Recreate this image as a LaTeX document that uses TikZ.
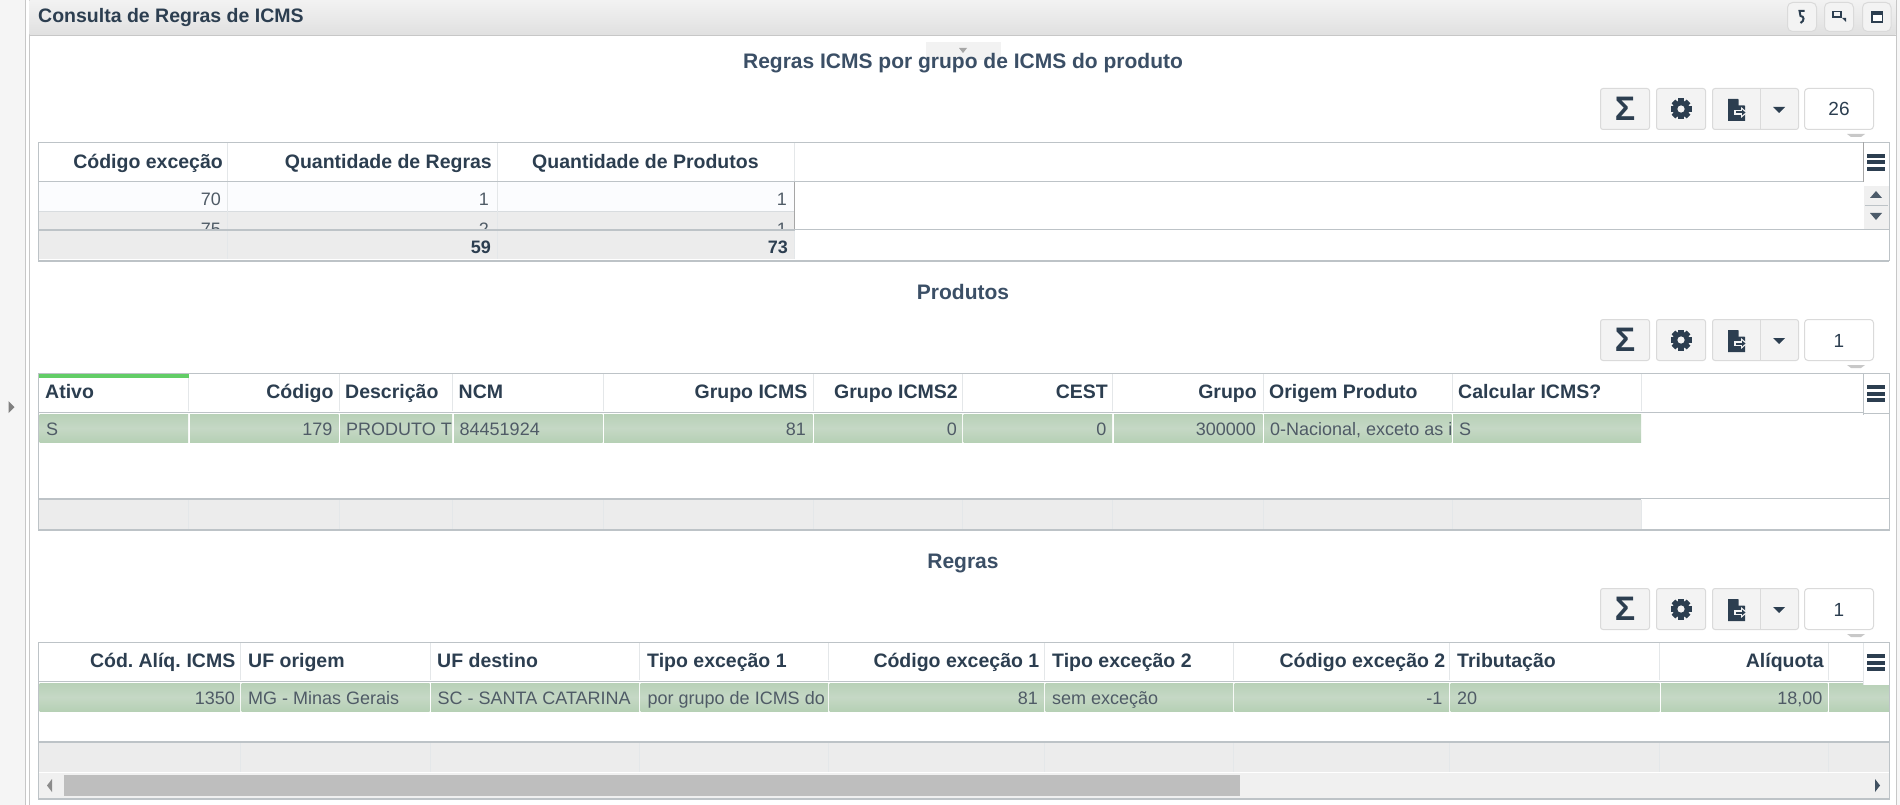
\documentclass[tikz,border=0pt]{standalone}
\usepackage{fontspec}
\setmainfont{Liberation Sans}
\definecolor{hd}{HTML}{2C3E50}
\definecolor{bd}{HTML}{4F5B66}
\definecolor{ttl}{HTML}{3B4F66}
\definecolor{rule}{HTML}{BDC3C7}
\definecolor{sep}{HTML}{E4E7E9}
\definecolor{rowsep}{HTML}{D8DCDF}
\definecolor{foot}{HTML}{ECECEC}
\definecolor{btn}{HTML}{F3F3F3}
\definecolor{btnb}{HTML}{DADADA}
\definecolor{scr}{HTML}{F0F0F0}
\definecolor{thumb}{HTML}{BEBEBE}
\definecolor{gtop}{HTML}{B8D1B7}
\definecolor{gmid}{HTML}{C5D8C5}
\definecolor{gbot}{HTML}{B6D0B5}
\definecolor{rowa}{HTML}{FBFCFE}
\definecolor{activebar}{HTML}{62CD66}
\tikzset{
  hl/.style={inner sep=0pt,font=\fontsize{19.5}{22}\selectfont\bfseries,text=hd,anchor=base west},
  hr/.style={inner sep=0pt,font=\fontsize{19.5}{22}\selectfont\bfseries,text=hd,anchor=base east},
  cl/.style={inner sep=0pt,font=\fontsize{18}{20}\selectfont,text=bd,anchor=base west},
  cr/.style={inner sep=0pt,font=\fontsize{18}{20}\selectfont,text=bd,anchor=base east},
  fr/.style={inner sep=0pt,font=\fontsize{18}{20}\selectfont\bfseries,text=hd,anchor=base east},
  sectitle/.style={inner sep=0pt,font=\fontsize{21}{24}\selectfont\bfseries,text=ttl,anchor=base},
  paneltitle/.style={inner sep=0pt,font=\fontsize{19.5}{22}\selectfont\bfseries,text=hd,anchor=base west},
  btnbox/.style={draw=btnb,fill=btn,rounded corners=2.5pt,line width=1pt},
  hbtn/.style={draw=btnb,fill=btn,rounded corners=5pt,line width=1pt},
  numbox/.style={draw=btnb,fill=white,rounded corners=3.5pt,line width=1pt},
  numtext/.style={inner sep=0pt,font=\fontsize{19}{22}\selectfont,text=hd,anchor=base},
  sigmatext/.style={inner sep=0pt,font=\fontsize{34}{36}\selectfont\bfseries,text=hd,anchor=center},
  greenrow/.style={top color=gtop,bottom color=gbot,middle color=gmid},
}
% toolbar: #1 top y, #2 number, #3 node-name prefix
\newcommand{\toolbar}[3]{%
  \begin{scope}[shift={(0,#1)}]
    \draw[btnbox] (1600.5,0.5) rectangle (1649.5,41.5);
    \node[sigmatext] (#3sig) at (1625,21) {Σ};
    \draw[btnbox] (1656.5,0.5) rectangle (1705.5,41.5);
    % gear
    \begin{scope}[shift={(1681,21)}]
      \foreach \a in {0,45,...,315}
        \fill[hd,rotate=\a] (-2.6,-10.5) rectangle (2.6,10.5);
      \fill[hd] (0,0) circle (8.4);
      \fill[btn] (0,0) circle (3.6);
    \end{scope}
    \draw[btnbox] (1712.5,0.5) rectangle (1798.5,41.5);
    \draw[btnb,line width=1pt] (1760.5,0.5) -- (1760.5,41.5);
    % export file icon
    \begin{scope}[shift={(1728,11)}]
      \fill[hd] (0,0) -- (10,0) -- (17,7) -- (17,22) -- (0,22) -- cycle;
      \fill[btn] (10.5,-0.5) -- (10.5,6.5) -- (17.5,6.5) -- cycle;
      \fill[btn] (6,11) rectangle (13,16);
      \fill[btn] (13,8) -- (19.5,13.5) -- (13,19) -- cycle;
      \fill[hd] (8,12.5) rectangle (14,14.5);
      \fill[hd] (14,10.5) -- (17.5,13.5) -- (14,16.5) -- cycle;
    \end{scope}
    \fill[hd] (1773,19) -- (1785,19) -- (1779,25) -- cycle;
    \draw[numbox] (1804.5,0.5) rectangle (1873.5,41.5);
    \node[numtext] (#3num) at (1839,28) {#2};
    \fill[thumb!85] (1847,46) -- (1865,46) -- (1861,49) -- (1851,49) -- cycle;
  \end{scope}}
% hamburger menu: #1 top y of the icon
\newcommand{\menuicon}[1]{%
  \fill[hd] (1867,#1) rectangle (1885,#1+4);
  \fill[hd] (1867,#1+6.5) rectangle (1885,#1+10.5);
  \fill[hd] (1867,#1+13) rectangle (1885,#1+17);}
\begin{document}
\begin{tikzpicture}[x=1pt,y=-1pt]
\useasboundingbox (0,0) rectangle (1900,805);
\fill[white] (0,0) rectangle (1900,805);
% left rail
\fill[black!4] (0,0) rectangle (26,805);
\draw[black!22,line width=1pt] (25.5,0) -- (25.5,805);
\draw[black!22,line width=1pt] (29,0) -- (29,805);
\fill[black!50] (8.5,401) -- (14.5,407) -- (8.5,413) -- cycle;
% right edge
\draw[black!22,line width=1pt] (1896,0) -- (1896,805);
\fill[black!3] (1896.5,0) rectangle (1900,805);
% panel header
\shade[top color=black!5,bottom color=black!12] (29.5,0) rectangle (1895.5,35);
\draw[black!22,line width=1pt] (29.5,35.5) -- (1895.5,35.5);
\node[paneltitle] (panel) at (38,22.5) {Consulta de Regras de ICMS};
\draw[hbtn] (1787.5,2.5) rectangle (1816.5,31.5);
\draw[hbtn] (1824.5,2.5) rectangle (1853.5,31.5);
\draw[hbtn] (1862.5,2.5) rectangle (1891,31.5);
\draw[hd,line width=2pt] (1804.5,11) -- (1799.5,11) -- (1800.5,16) .. controls (1804.5,16) and (1804.5,21) .. (1800.5,23);
\draw[hd,line width=1.8pt] (1832.9,11.6) rectangle (1841,17);
\fill[hd] (1842,18) -- (1846,18) -- (1846,22) -- cycle;
\fill[hd] (1871,11.5) rectangle (1883,23);
\fill[white] (1872.5,15) rectangle (1881.5,21.5);
% ---------- Table 1 ----------
\fill[black!5] (926,42) rectangle (1001,60);
\fill[black!35] (959,48) -- (967,48) -- (963,53) -- cycle;
\node[sectitle] (t1) at (963,69) {Regras ICMS por grupo de ICMS do produto};
\toolbar{88}{26}{a}
\fill[white] (38,142.5) rectangle (1889,260.5);
\begin{scope}
  \clip (38,182) rectangle (1889,229);
  \fill[rowa] (38,182) rectangle (794.5,212);
  \fill[foot] (38,212) rectangle (794.5,229);
  \draw[rowsep,line width=1pt] (38,212) -- (794.5,212);
  \node[cr] (a70) at (221,205) {70};
  \node[cr] (a11) at (489,205) {1};
  \node[cr] (a12) at (787,205) {1};
  \node[cr] (a75) at (221,236) {75};
  \node[cr] (a21) at (489,236) {2};
  \node[cr] (a22) at (787,236) {1};
\end{scope}
\fill[foot] (38,231) rectangle (794.5,259);
\foreach \x in {227.5,497.5} \draw[sep,line width=1pt] (\x,142.5) -- (\x,259);
\draw[sep,line width=1pt] (794.5,142.5) -- (794.5,182);
\draw[black!35,line width=1pt] (794.5,182) -- (794.5,229);
\draw[sep,line width=1pt] (794.5,229) -- (794.5,259);
\fill[scr] (1864,186) rectangle (1888.5,229);
\fill[hd!85] (1870,198) -- (1882,198) -- (1876,191) -- cycle;
\fill[hd!85] (1870,213) -- (1882,213) -- (1876,220) -- cycle;
\draw[rule,line width=1pt] (1865,205.5) -- (1888,205.5);
\draw[rule,line width=1.5pt] (38,181.5) -- (1863,181.5);
\draw[rule,line width=2pt] (38,230) -- (794.5,230);
\draw[rule,line width=1pt] (794.5,229.5) -- (1888.5,229.5);
\draw[rule,line width=2pt] (38,260.5) -- (1889,260.5);
\draw[rule,line width=1pt] (38,142.5) rectangle (1889,260.5);
\draw[black!35,line width=1pt] (1863.5,142.5) -- (1863.5,182);
\menuicon{154}
\node[hr] (ah1) at (223,168.5) {Código exceção};
\node[hr] (ah2) at (492,168.5) {Quantidade de Regras};
\node[hl] (ah3) at (532,168.5) {Quantidade de Produtos};
\node[fr] (af1) at (491,253) {59};
\node[fr] (af2) at (788,253) {73};
% ---------- Table 2 ----------
\node[sectitle] (t2) at (963,299) {Produtos};
\toolbar{319}{1}{b}
\fill[foot] (38,500) rectangle (1641,529);
\foreach \l/\r in {39.5/188,190/338.5,340/452,454/602.5,604/812.5,814/962,963.5/1112,1114/1262.5,1264/1451.5,1453/1641}
  \shade[greenrow] (\l,414) rectangle (\r,442);
\foreach \x in {188.5,339,452.5,603,813,962,1112.5,1263,1452,1641} {
  \draw[sep,line width=1pt] (\x,374) -- (\x,411);
  \draw[sep,line width=1pt] (\x,500) -- (\x,529);
}
\fill[activebar] (38,374) rectangle (188.5,377.5);
\draw[rule,line width=1.5pt] (38,412.5) -- (1863,412.5);
\draw[rule,line width=2pt] (38,499) -- (1641,499);
\draw[rule,line width=1pt] (1641,498.5) -- (1889,498.5);
\draw[rule,line width=2pt] (38,529.7) -- (1889,529.7);
\draw[rule,line width=1pt] (38,373) rectangle (1889,530);
\draw[rule,line width=1pt] (1863.5,373) -- (1863.5,415);
\draw[rule,line width=1pt] (1864,413) -- (1888.5,413);
\menuicon{385}
\node[hl] (bh1) at (45,398) {Ativo};
\node[hr] (bh2) at (333.7,398) {Código};
\node[hl] (bh3) at (345,398) {Descrição};
\node[hl] (bh4) at (458.5,398) {NCM};
\node[hr] (bh5) at (807.5,398) {Grupo ICMS};
\node[hl] (bh6) at (834,398) {Grupo ICMS2};
\node[hr] (bh7) at (1108,398) {CEST};
\node[hr] (bh8) at (1257,398) {Grupo};
\node[hl] (bh9) at (1269,398) {Origem Produto};
\node[hl] (bh10) at (1458,398) {Calcular ICMS?};
\node[cl] (bc1) at (46,435) {S};
\node[cr] (bc2) at (332.5,435) {179};
\node[cl] (bc3) at (346,435) {PRODUTO T};
\node[cl] (bc4) at (459.5,435) {84451924};
\node[cr] (bc5) at (806,435) {81};
\node[cr] (bc6) at (957,435) {0};
\node[cr] (bc7) at (1106.5,435) {0};
\node[cr] (bc8) at (1256,435) {300000};
\node[cl] (bc9) at (1270,435) {0-Nacional, exceto as i};
\node[cl] (bc10) at (1459,435) {S};
% ---------- Table 3 ----------
\node[sectitle] (t3) at (963,568) {Regras};
\toolbar{588}{1}{c}
\fill[foot] (38,743) rectangle (1889,772);
\foreach \l/\r in {39.5/240,241.5/429.5,431/639,640.5/828,829.5/1044,1045.5/1233,1234.5/1449,1450.5/1659.5,1661/1827.5,1829/1889}
  \shade[greenrow] (\l,683) rectangle (\r,711);
\foreach \x in {240.6,430,639.5,828.5,1044.5,1233.6,1449.4,1659.7,1828} {
  \draw[sep,line width=1pt] (\x,643) -- (\x,680);
  \draw[sep,line width=1pt] (\x,743) -- (\x,772);
}
\draw[rule,line width=1.5pt] (38,681.5) -- (1889,681.5);
\draw[rule,line width=2pt] (38,742) -- (1889,742);
\fill[scr] (38,773) rectangle (1889,798);
\fill[thumb] (64,775) rectangle (1240,796);
\fill[black!45] (52,779) -- (47,785.5) -- (52,792) -- cycle;
\fill[hd!90] (1875,779) -- (1880,785.5) -- (1875,792) -- cycle;
\draw[rule,line width=2pt] (38,798.5) -- (1889,798.5);
\draw[rule,line width=1pt] (38,642) rectangle (1889,799);
\fill[white] (1863.5,643) rectangle (1888.5,685);
\draw[sep,line width=1pt] (1863.5,643) -- (1863.5,685);
\menuicon{654}
\node[hr] (ch1) at (235.5,667) {Cód.\hspace{-2pt} Alíq.\hspace{-1.5pt} ICMS};
\node[hl] (ch2) at (248,667) {UF origem};
\node[hl] (ch3) at (437,667) {UF destino};
\node[hl] (ch4) at (647,667) {Tipo exceção 1};
\node[hr] (ch5) at (1039.5,667) {Código exceção 1};
\node[hl] (ch6) at (1052,667) {Tipo exceção 2};
\node[hr] (ch7) at (1445.5,667) {Código exceção 2};
\node[hl] (ch8) at (1457,667) {Tributação};
\node[hr] (ch9) at (1824,667) {Alíquota};
\node[cr] (cc1) at (235,704) {1350};
\node[cl] (cc2) at (248,704) {MG - Minas Gerais};
\node[cl] (cc3) at (437.5,704) {SC - SANTA CATARINA};
\node[cl] (cc4) at (647.5,704) {por grupo de ICMS do};
\node[cr] (cc5) at (1038,704) {81};
\node[cl] (cc6) at (1052,704) {sem exceção};
\node[cr] (cc7) at (1442.5,704) {-1};
\node[cl] (cc8) at (1457,704) {20};
\node[cr] (cc9) at (1822.5,704) {18,00};
\end{tikzpicture}
\end{document}
